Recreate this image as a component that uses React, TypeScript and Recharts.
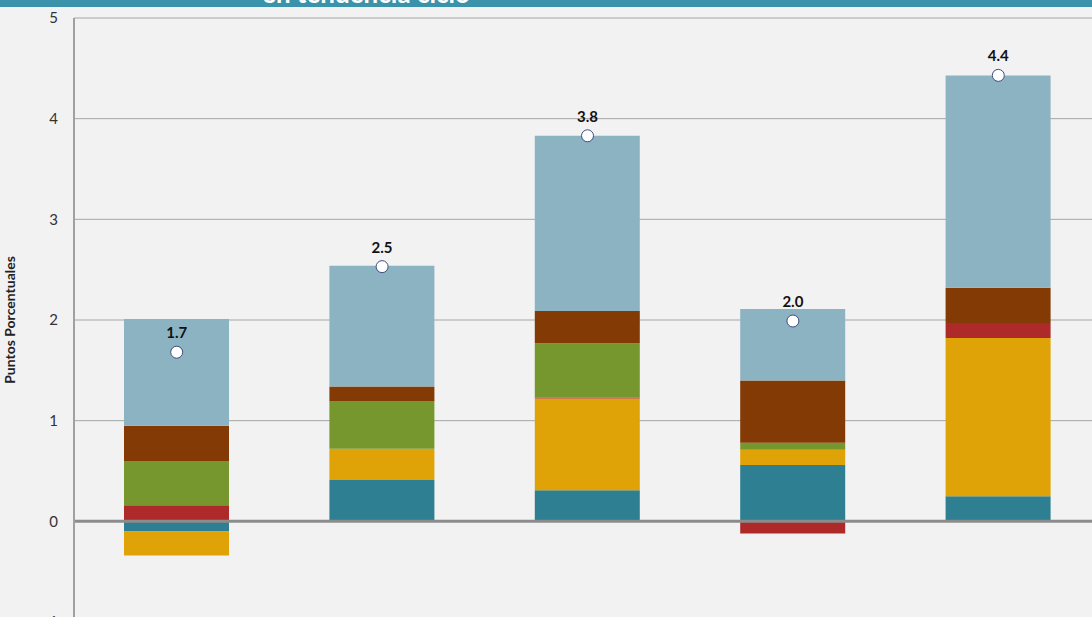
import React from "react";
import {
  ComposedChart,
  Bar,
  Line,
  XAxis,
  YAxis,
  CartesianGrid,
  ReferenceLine,
  LabelList,
} from "recharts";

const categories = ["1", "2", "3", "4", "5"];
const serieTeal = [-0.1, 0.41, 0.31, 0.56, 0.25];
const serieYellow = [-0.24, 0.31, 0.91, 0.15, 1.57];
const serieRed = [0.16, 0.0, 0.01, -0.12, 0.15];
const serieGreen = [0.44, 0.47, 0.54, 0.07, 0.0];
const serieBrown = [0.35, 0.15, 0.32, 0.62, 0.35];
const serieLightBlue = [1.06, 1.2, 1.74, 0.71, 2.11];
const serieTotal = [1.68, 2.53, 3.83, 1.99, 4.43];
const yTicks = [-1, 0, 1, 2, 3, 4, 5];

const data = categories.map((c, i) => ({
  name: c,
  teal: serieTeal[i],
  yellow: serieYellow[i],
  red: serieRed[i],
  green: serieGreen[i],
  brown: serieBrown[i],
  lightblue: serieLightBlue[i],
  total: serieTotal[i],
}));

const FONT = "Lato, 'Open Sans', sans-serif";

const Dot = (props: any) => {
  const { cx, cy } = props;
  if (cx == null || cy == null) return null;
  return <circle cx={cx} cy={cy} r={6} fill="#ffffff" stroke="#3f4b7d" strokeWidth={1} />;
};

export default function App() {
  return (
    <div
      style={{
        position: "fixed",
        top: 0,
        left: 0,
        width: 1092,
        height: 617,
        overflow: "hidden",
        background: "#f2f2f2",
        fontFamily: FONT,
      }}
    >
      <div
        style={{
          position: "absolute",
          top: 0,
          left: 0,
          width: 1092,
          height: 7,
          background: "#3a93ab",
          overflow: "hidden",
        }}
      >
        <span
          style={{
            position: "absolute",
            left: 262,
            top: -20,
            fontSize: 26,
            lineHeight: "26px",
            fontWeight: 700,
            color: "#ffffff",
            whiteSpace: "nowrap",
            fontFamily: FONT,
          }}
        >
          en tendencia ciclo
        </span>
      </div>
      <div style={{ position: "absolute", top: 0, left: 0 }}>
        <ComposedChart
          width={1101}
          height={640}
          data={data}
          stackOffset="sign"
          margin={{ top: 18, right: 0, bottom: 18, left: 0 }}
        >
          <CartesianGrid vertical={false} stroke="#a6a6a6" strokeWidth={1} />
          <XAxis dataKey="name" hide />
          <YAxis
            domain={[-1, 5]}
            ticks={yTicks}
            width={74}
            axisLine={{ stroke: "#a0a0a0", strokeWidth: 2 }}
            tickLine={false}
            tickSize={0}
            tickMargin={16}
            tick={{ fill: "#333333", fontSize: 15, fontFamily: FONT }}
            label={{
              value: "Puntos Porcentuales",
              angle: -90,
              position: "insideLeft",
              offset: 10,
              style: { textAnchor: "middle", fontWeight: 700, fontSize: 14, fill: "#222222", fontFamily: FONT },
            }}
          />
          <Bar dataKey="teal" stackId="s" fill="#2e7f91" barSize={105} isAnimationActive={false} />
          <Bar dataKey="yellow" stackId="s" fill="#e0a307" barSize={105} isAnimationActive={false} />
          <Bar dataKey="red" stackId="s" fill="#ae2a2a" barSize={105} isAnimationActive={false} />
          <Bar dataKey="green" stackId="s" fill="#76962e" barSize={105} isAnimationActive={false} />
          <Bar dataKey="brown" stackId="s" fill="#833a04" barSize={105} isAnimationActive={false} />
          <Bar dataKey="lightblue" stackId="s" fill="#8cb3c2" barSize={105} isAnimationActive={false} />
          <ReferenceLine y={0} stroke="#8c8c8c" strokeWidth={3} />
          <Line
            dataKey="total"
            stroke="none"
            dot={<Dot />}
            activeDot={false}
            isAnimationActive={false}
          >
            <LabelList
              dataKey="total"
              position="top"
              offset={14}
              formatter={(v: any) => Number(v).toFixed(1)}
              style={{ fontWeight: 700, fontSize: 15, fill: "#111111", fontFamily: FONT }}
            />
          </Line>
        </ComposedChart>
      </div>
    </div>
  );
}
